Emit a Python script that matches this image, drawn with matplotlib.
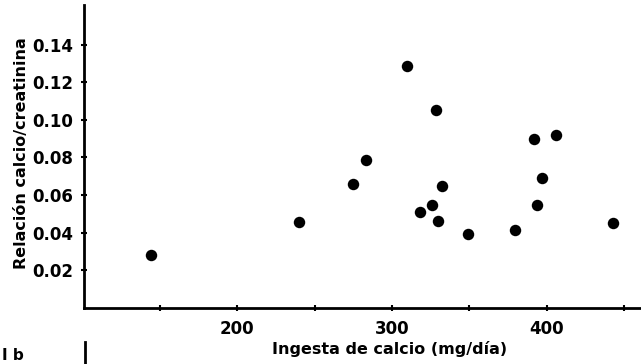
import matplotlib
matplotlib.use("Agg")
import matplotlib.pyplot as plt
from matplotlib.lines import Line2D

# Data
calcium_intake = [144.6, 240.0, 310.0, 328.5, 283.4, 275.0, 332.6, 326.1, 318.0,
                  329.6, 349.4, 379.3, 391.7, 405.9, 396.9, 394.1, 442.7]
ca_creat_ratio = [0.0280, 0.0457, 0.1285, 0.1053, 0.0789, 0.0660, 0.0646, 0.0547, 0.0511,
                  0.0462, 0.0393, 0.0413, 0.0896, 0.0918, 0.0692, 0.0545, 0.0450]

x_ticks = [150, 200, 250, 300, 350, 400, 450]
x_tick_labels = ["", "200", "", "300", "", "400", ""]
y_ticks = [0.02, 0.04, 0.06, 0.08, 0.10, 0.12, 0.14]
y_tick_labels = ["0.02", "0.04", "0.06", "0.08", "0.10", "0.12", "0.14"]

plt.rcParams['font.family'] = ['DejaVu Sans']
plt.rcParams['font.weight'] = 'bold'

W, H = 641, 364
fig = plt.figure(figsize=(W / 100, H / 100), dpi=100)
left_px, bottom_px, top_px = 84, 308, 5
ax = fig.add_axes([left_px / W, (H - bottom_px) / H, 1 - left_px / W, (bottom_px - top_px) / H])

ax.scatter(calcium_intake, ca_creat_ratio, s=68, color='black', zorder=3, linewidths=0)

ax.set_xlim(101, 461)
ax.set_ylim(0, 0.161)

for s in ['top', 'right']:
    ax.spines[s].set_visible(False)
for s in ['left', 'bottom']:
    ax.spines[s].set_linewidth(2.0)
    ax.spines[s].set_color('black')

ax.set_xticks(x_ticks)
ax.set_xticklabels(x_tick_labels)
ax.set_yticks(y_ticks)
ax.set_yticklabels(y_tick_labels)
ax.tick_params(axis='both', direction='inout', length=5, width=1.5, labelsize=12, colors='black')
ax.tick_params(axis='x', pad=6)
ax.tick_params(axis='y', pad=5)
for lab in ax.get_xticklabels() + ax.get_yticklabels():
    lab.set_fontweight('bold')

ax.set_xlabel("Ingesta de calcio (mg/día)", fontsize=11.5, fontweight='bold', va='center')
ax.xaxis.set_label_coords((390 - left_px) / (W - left_px), -41 / (bottom_px - top_px))
ax.set_ylabel("Relación calcio/creatinina", fontsize=11.5, fontweight='bold', va='center')
ax.yaxis.set_label_coords((22 - left_px) / (W - left_px), (bottom_px - 153) / (bottom_px - top_px))

# fragments of the neighbouring panel visible at the bottom of the crop
fig.text(2 / W, 1 - 356 / H, "I b", fontsize=11, fontweight='bold', va='center', ha='left')
fig.add_artist(Line2D([85 / W, 85 / W], [1 - 342 / H, 0], color='black', linewidth=2.0,
                      transform=fig.transFigure))

fig.savefig("out.png", dpi=100, facecolor='white')
